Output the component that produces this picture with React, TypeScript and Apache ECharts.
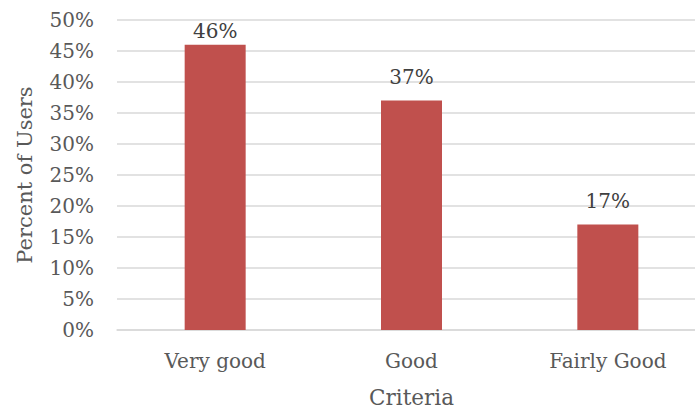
import React, { useEffect, useRef } from "react";
import * as echarts from "echarts";

const categories = ["Very good", "Good", "Fairly Good"];
const percentUsers = [46, 37, 17];
const yTicks = { min: 0, max: 50, interval: 5 };

const FONT = "DejaVu Serif";
const TEXT = "#595959";

export default function App() {
  const ref = useRef<HTMLDivElement>(null);
  useEffect(() => {
    if (!ref.current) return;
    const chart = echarts.init(ref.current, undefined, { renderer: "svg" });
    const maxVal = Math.max(...percentUsers);
    chart.setOption({
      animation: false,
      backgroundColor: "#ffffff",
      grid: {
        left: 117,
        right: -11,
        top: 20,
        bottom: 82,
        containLabel: false,
        outerBoundsMode: "none",
      },
      xAxis: {
        type: "category",
        data: categories,
        name: "Criteria",
        nameLocation: "middle",
        nameGap: 56,
        nameTextStyle: { fontFamily: FONT, fontSize: 21.5, color: TEXT },
        axisLine: { show: true, lineStyle: { color: "#d9d9d9", width: 1.5 } },
        axisTick: { show: false },
        axisLabel: { fontFamily: FONT, fontSize: 20, color: TEXT, margin: 21 },
      },
      yAxis: {
        type: "value",
        min: yTicks.min,
        max: yTicks.max,
        interval: yTicks.interval,
        name: "Percent of Users",
        nameLocation: "middle",
        nameGap: 82,
        nameTextStyle: { fontFamily: FONT, fontSize: 21, color: TEXT },
        axisLine: { show: false },
        axisTick: { show: false },
        axisLabel: { fontFamily: FONT, fontSize: 20, color: TEXT, margin: 23, formatter: "{value}%" },
        splitLine: { lineStyle: { color: "#d9d9d9", width: 1.5 } },
      },
      series: [
        {
          type: "bar",
          data: percentUsers.map((v) => ({
            value: v,
            label: { distance: v === maxVal ? 4 : 14 },
          })),
          barWidth: 61,
          itemStyle: { color: "#c0504d" },
          label: {
            show: true,
            position: "top",
            formatter: "{c}%",
            fontFamily: FONT,
            fontSize: 20,
            color: "#404040",
          },
        },
      ],
    });
    return () => chart.dispose();
  }, []);
  return (
    <div
      ref={ref}
      style={{ position: "fixed", left: 0, top: 0, width: 695, height: 412, background: "#fff" }}
    />
  );
}
